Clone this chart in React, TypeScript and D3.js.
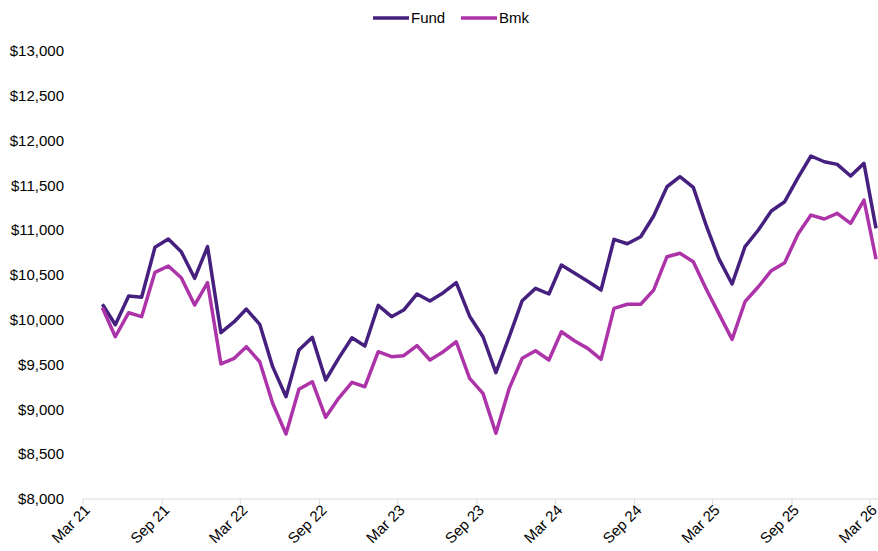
import React from "react";
import * as d3 from "d3";

const fundValues = [
  10173, 9945, 10265, 10251, 10809, 10902, 10760, 10463, 10816, 9856,
  9979, 10120, 9950, 9477, 9142, 9663, 9804, 9328, 9570, 9800,
  9707, 10161, 10035, 10109, 10288, 10210, 10302, 10414, 10040, 9811,
  9410, 9811, 10213, 10351, 10288, 10611, 10520, 10430, 10332, 10898,
  10849, 10927, 11158, 11485, 11597, 11478, 11039, 10686, 10399, 10816,
  11002, 11214, 11318, 11586, 11828, 11764, 11735, 11605, 11746, 11021,
];
const bmkValues = [
  10135, 9811, 10079, 10035, 10530, 10600, 10470, 10165, 10414, 9507,
  9570, 9700, 9532, 9068, 8725, 9224, 9309, 8912, 9124, 9302,
  9253, 9644, 9588, 9600, 9711, 9551, 9644, 9755, 9347, 9179,
  8733, 9235, 9570, 9655, 9551, 9867, 9763, 9681, 9559, 10128,
  10173, 10173, 10332, 10704, 10742, 10648, 10332, 10072, 9782, 10202,
  10369, 10548, 10637, 10957, 11169, 11125, 11188, 11077, 11337, 10678,
];
const firstMonth = new Date(2021, 3, 15); // Apr 2021, plotted mid-month
const tickLabels = [
  "Mar 21", "Sep 21", "Mar 22", "Sep 22", "Mar 23", "Sep 23",
  "Mar 24", "Sep 24", "Mar 25", "Sep 25", "Mar 26",
];
const yTicks = [8000, 8500, 9000, 9500, 10000, 10500, 11000, 11500, 12000, 12500, 13000];
const seriesNames = ["Fund", "Bmk"];
const seriesColors = ["#45207f", "#ad33a9"];

const W = 878;
const H = 551;
const FONT = "'Liberation Sans', Arial, sans-serif";

export default function App() {
  const dates = fundValues.map((_, i) => d3.timeMonth.offset(firstMonth, i));
  const tickDates = tickLabels.map((_, i) => d3.timeMonth.offset(new Date(2021, 2, 1), i * 6));

  const x = d3.scaleTime().domain([tickDates[0], tickDates[tickDates.length - 1]]).range([83, 870]);
  const y = d3.scaleLinear().domain([8000, 13000]).range([499, 51]);

  const line = d3
    .line<number>()
    .x((_, i) => x(dates[i]))
    .y((d) => y(d));

  const series = [fundValues, bmkValues];
  const fmt = d3.format(",");

  return (
    <svg width={W} height={H} style={{ position: "absolute", left: 0, top: 0 }} fontFamily={FONT}>
      <rect width={W} height={H} fill="#fff" />
      {/* y labels */}
      {yTicks.map((t) => (
        <text key={t} x={64} y={y(t)} dy="0.35em" textAnchor="end" fontSize={15} fill="#000">
          ${fmt(t)}
        </text>
      ))}
      {/* x axis */}
      <line x1={x(tickDates[0])} x2={W} y1={y(8000)} y2={y(8000)} stroke="#d9d9d9" strokeWidth={1} />
      {tickDates.map((d, i) => (
        <g key={i}>
          <line x1={x(d)} x2={x(d)} y1={y(8000)} y2={y(8000) + 5} stroke="#d9d9d9" strokeWidth={1} />
          <text
            transform={`translate(${x(d) + 8},${y(8000) + 12}) rotate(-45)`}
            textAnchor="end"
            fontSize={15}
            fill="#000"
          >
            {tickLabels[i]}
          </text>
        </g>
      ))}
      {/* lines */}
      {series.map((s, k) => (
        <path
          key={k}
          d={line(s) || ""}
          fill="none"
          stroke={seriesColors[k]}
          strokeWidth={3.5}
          strokeLinejoin="round"
        />
      ))}
      {/* legend */}
      {seriesNames.map((n, k) => {
        const lx = [373, 461][k];
        return (
          <g key={n}>
            <line x1={lx} x2={lx + 36} y1={18} y2={18} stroke={seriesColors[k]} strokeWidth={3.5} />
            <text x={lx + 38} y={18} dy="0.35em" fontSize={15} fill="#000">
              {n}
            </text>
          </g>
        );
      })}
    </svg>
  );
}
